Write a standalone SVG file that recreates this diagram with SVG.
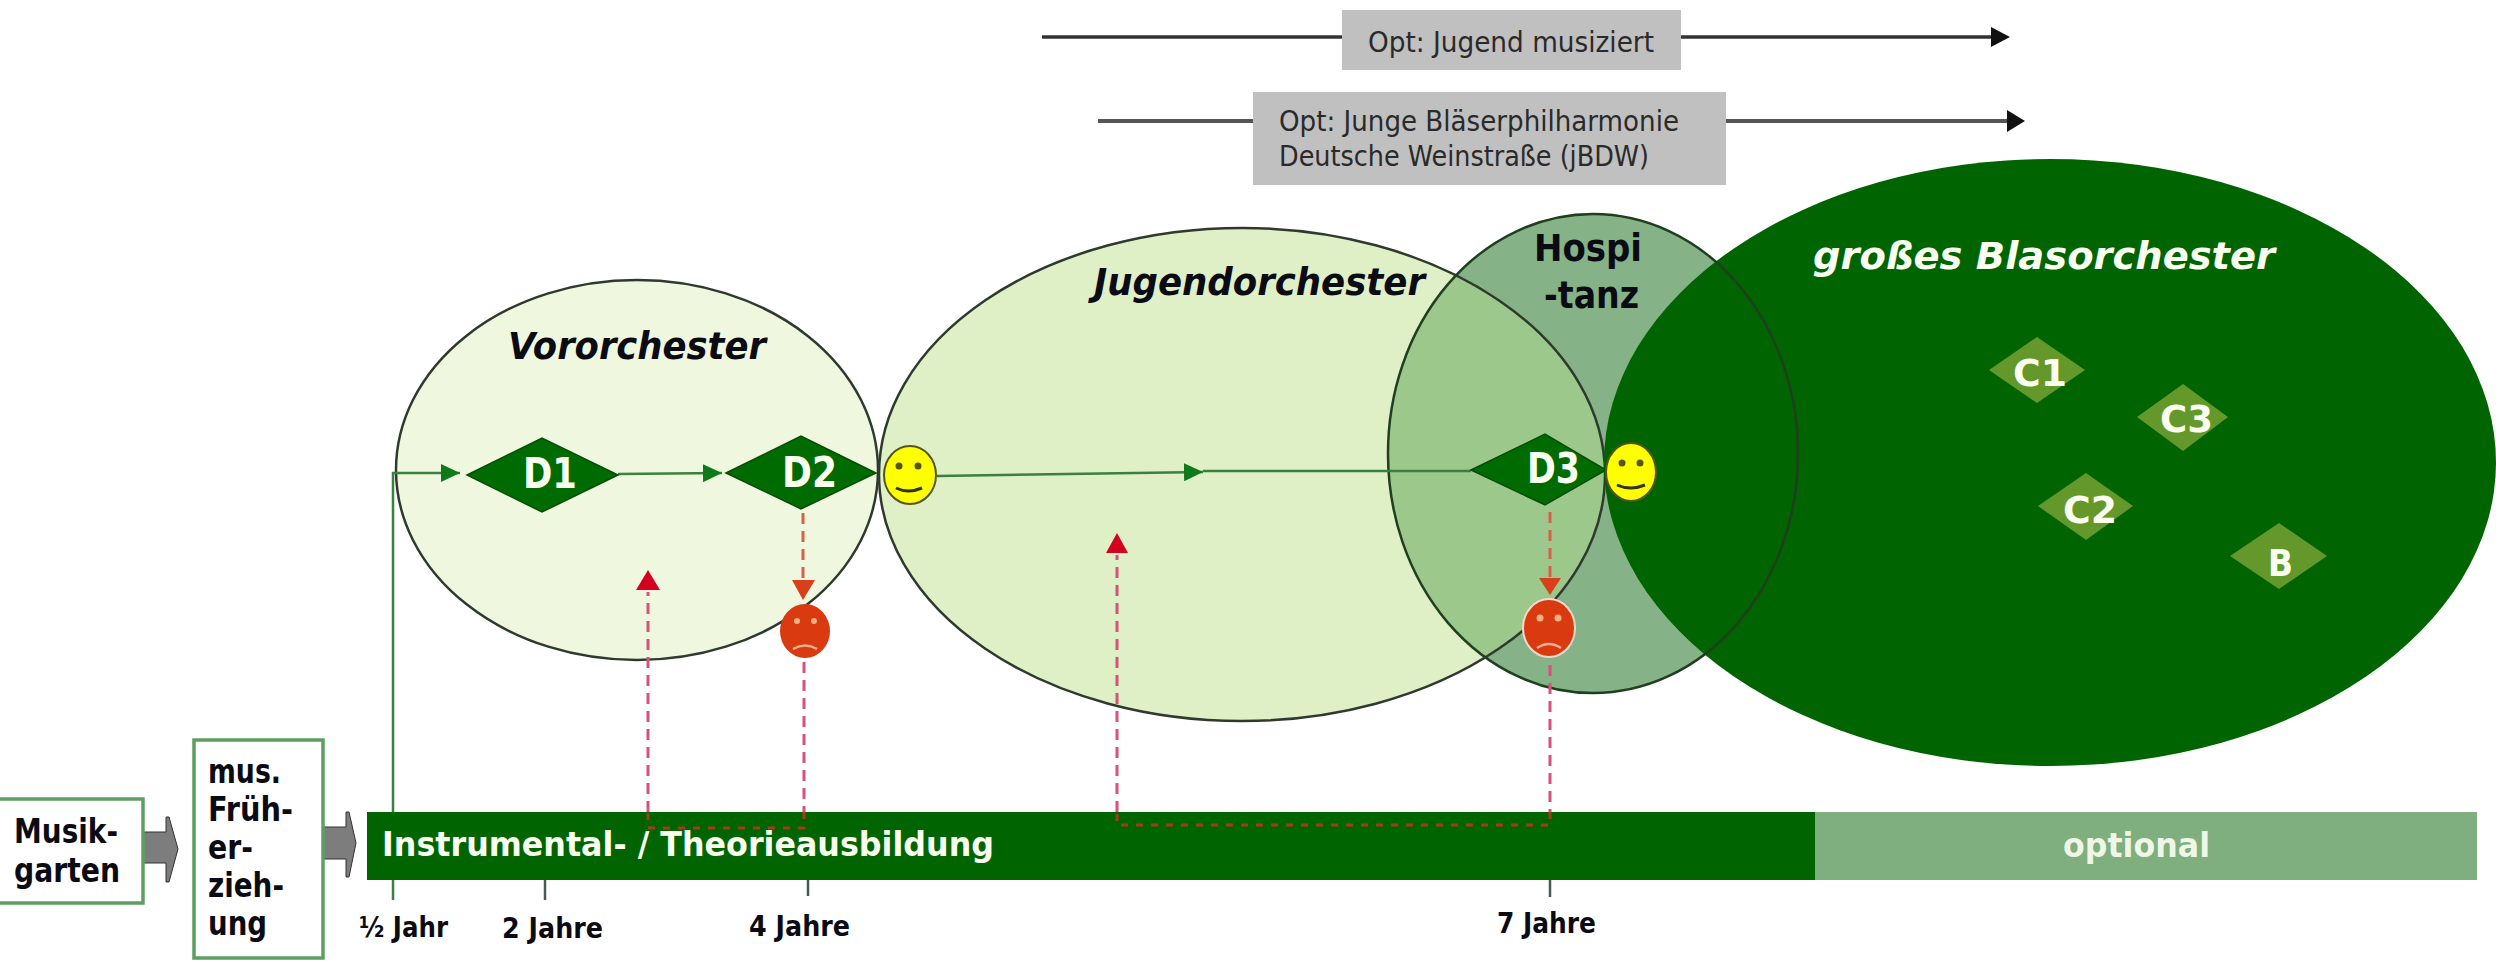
<svg xmlns="http://www.w3.org/2000/svg" width="2496" height="961" viewBox="0 0 2496 961">
<style>
text{font-family:"DejaVu Sans","Liberation Sans",sans-serif}
.b{font-weight:700}
.bi{font-weight:700;font-style:italic}
.k{fill:#0b0b14}
.w{fill:#fafff0}
.s32{font-size:33px}
.s36{font-size:37px}
.s40{font-size:42px}
.s38{font-size:38px}
.s28{font-size:28px}
.s24{font-size:28px;fill:#2a2a2a}
.edge{stroke:#2e3a2e;stroke-width:2.5}
.box{fill:#fff;stroke:#5e9e62;stroke-width:3.5}
.dd{fill:#006b00;stroke:#064d06;stroke-width:1.5}
.cd{fill:#64982a}
.flow{fill:none;stroke:#3a8040;stroke-width:2.5}
.dash{fill:none;stroke:#d9507a;stroke-width:3;stroke-dasharray:11 7}
.dashd{fill:none;stroke:#a83a1a;stroke-width:3;stroke-dasharray:7 8}
.dashu{fill:none;stroke:#d8604a;stroke-width:3;stroke-dasharray:11 7}
.tick{stroke:#4a5a50;stroke-width:2.5}
.smile{fill:#ffff00;stroke:#55551a;stroke-width:2}
.frown{fill:#d93a10}
.ln{fill:none;stroke:#33331a;stroke-width:3}
.flw{fill:none;stroke:#f5b090;stroke-width:2.5}
.eye{fill:#55551a}
.eyer{fill:#f0b080}
.ga{fill:#7d7d7d;stroke:#333;stroke-width:1}
</style>
<defs>
<clipPath id="jugendClip"><ellipse cx="1242" cy="474.5" rx="363" ry="246.5"/></clipPath>
<marker id="gh" markerUnits="userSpaceOnUse" markerWidth="19" markerHeight="18" refX="19" refY="9" orient="auto"><path d="M0 0L19 9L0 18Z" fill="#0f7a1a"/></marker>
</defs>

<g id="ellipses">
<g id="vororchester"><ellipse cx="637" cy="470" rx="241" ry="190" fill="#eff8df" class="edge"/><text x="508" y="359" class="bi k s36" textLength="258" lengthAdjust="spacingAndGlyphs">Vororchester</text></g>
<g id="jugendorchester"><ellipse cx="1242" cy="474.5" rx="363" ry="246.5" fill="#dfefc6"/></g>
<g id="hospitanz">
<ellipse cx="1593" cy="453.5" rx="205" ry="239.5" fill="#86b287"/>
<ellipse cx="1593" cy="453.5" rx="205" ry="239.5" fill="#9dc88c" clip-path="url(#jugendClip)"/>
</g>
<ellipse cx="1242" cy="474.5" rx="363" ry="246.5" fill="none" class="edge"/>
<text x="1094" y="295" class="bi k s36" textLength="331" lengthAdjust="spacingAndGlyphs">Jugendorchester</text>
<g id="grosses-blasorchester"><ellipse cx="2050" cy="462.5" rx="446" ry="303.5" fill="#006400"/><text x="1813" y="269" class="bi w s36" textLength="462" lengthAdjust="spacingAndGlyphs">großes Blasorchester</text></g>
<ellipse cx="1593" cy="453.5" rx="205" ry="239.5" fill="none" stroke="#1f3f1f" stroke-width="2.5"/>
<text x="1534" y="261" class="b k s36" textLength="108" lengthAdjust="spacingAndGlyphs">Hospi</text>
<text x="1544" y="308" class="b k s36" textLength="95" lengthAdjust="spacingAndGlyphs">-tanz</text>
</g>

<g id="top-options">
<g id="opt-jugend">
<path d="M1042 37H1342M1681 37H1995" stroke="#333" stroke-width="3.5" fill="none"/>
<path d="M1991 27L2010 37L1991 47Z" fill="#111"/>
<rect x="1342" y="10" width="339" height="60" fill="#c0c0c0"/>
<text x="1368" y="52" class="s24" textLength="286" lengthAdjust="spacingAndGlyphs">Opt: Jugend musiziert</text>
</g>
<g id="opt-jbdw">
<path d="M1098 121H1253M1726 121H2010" stroke="#555" stroke-width="4" fill="none"/>
<path d="M2007 110L2025 121L2007 132Z" fill="#111"/>
<rect x="1253" y="92" width="473" height="93" fill="#c0c0c0"/>
<text x="1279" y="131" class="s24" textLength="400" lengthAdjust="spacingAndGlyphs">Opt: Junge Bläserphilharmonie</text>
<text x="1279" y="166" class="s24" textLength="370" lengthAdjust="spacingAndGlyphs">Deutsche Weinstraße (jBDW)</text>
</g>
</g>

<g id="bars">
<g id="ausbildung"><rect x="367" y="812" width="1448" height="68" fill="#006400"/><text x="382" y="856" class="b w s32" textLength="612" lengthAdjust="spacingAndGlyphs">Instrumental- / Theorieausbildung</text></g>
<g id="optional"><rect x="1815" y="812" width="662" height="68" fill="#7fae7f"/><text x="2063" y="857" class="b s32" fill="#eef6e6" textLength="147" lengthAdjust="spacingAndGlyphs">optional</text></g>
</g>

<g id="connectors">
<path class="flow" d="M393 812V473H460" marker-end="url(#gh)"/>
<path class="flow" d="M393 880V900"/>
<path class="flow" d="M618 474L722 473" marker-end="url(#gh)"/>
<path class="flow" d="M937 476L1203 472" marker-end="url(#gh)"/>
<path class="flow" d="M1203 471H1471" stroke-width="2"/>
<path class="dashu" d="M803 513V582"/>
<path d="M792 580H815L803 600Z" fill="#d8401a"/>
<path class="dash" d="M804 662V812"/>
<path class="dashd" d="M804 812V828H648V812"/>
<path class="dash" d="M648 812V592"/>
<path d="M636 590H660L648 570Z" fill="#d40020"/>
<path class="dashu" d="M1550 512V580"/>
<path d="M1539 578H1561L1550 595Z" fill="#d8401a"/>
<path class="dash" d="M1550 665V812"/>
<path class="dashd" d="M1550 812V825H1117V812"/>
<path class="dash" d="M1117 812V555"/>
<path d="M1106 553H1128L1117 533Z" fill="#d40020"/>
<path class="tick" d="M545 880V900M808 880V896M1550 880V897"/>
<path class="ga" d="M143 832H166V817L169 817L178 849L169 882L166 882V863H143Z"/>
<path class="ga" d="M323 827H346V812L349 812L356 843L349 877L346 877V859H323Z"/>
</g>

<g id="diamonds">
<g id="D1"><path class="dd" d="M467 475L542 438L618 475L542 512Z"/><text x="523" y="488" class="b w s40" textLength="54" lengthAdjust="spacingAndGlyphs">D1</text></g>
<g id="D2"><path class="dd" d="M726 473L801 436L876 473L801 509Z"/><text x="782" y="487" class="b w s40" textLength="55" lengthAdjust="spacingAndGlyphs">D2</text></g>
<g id="D3"><path class="dd" d="M1471 470L1545 434L1606 470L1545 505Z"/><text x="1527" y="483" class="b w s40" textLength="53" lengthAdjust="spacingAndGlyphs">D3</text></g>
<g id="C1"><path class="cd" d="M1989 370L2037 337L2085 370L2037 403Z"/><text x="2013" y="386" class="b w s38" textLength="54" lengthAdjust="spacingAndGlyphs">C1</text></g>
<g id="C3"><path class="cd" d="M2137 417L2183 384L2228 417L2183 451Z"/><text x="2160" y="432" class="b w s38" textLength="53" lengthAdjust="spacingAndGlyphs">C3</text></g>
<g id="C2"><path class="cd" d="M2038 506L2086 473L2133 506L2086 540Z"/><text x="2063" y="523" class="b w s38" textLength="54" lengthAdjust="spacingAndGlyphs">C2</text></g>
<g id="B"><path class="cd" d="M2230 556L2279 523L2327 556L2279 589Z"/><text x="2268" y="576" class="b w s38" textLength="25" lengthAdjust="spacingAndGlyphs">B</text></g>
</g>

<g id="faces">
<g id="smiley1"><ellipse class="smile" cx="910" cy="475" rx="26" ry="29"/><circle class="eye" cx="899" cy="466" r="3.5"/><circle class="eye" cx="918" cy="466" r="3.5"/><path class="ln" d="M896 488Q908 494 922 488"/></g>
<g id="smiley2"><ellipse class="smile" cx="1631" cy="472" rx="25" ry="29" stroke-width="1"/><circle class="eye" cx="1622" cy="463" r="3.5"/><circle class="eye" cx="1640" cy="463" r="3.5"/><path class="ln" d="M1617 485Q1630 491 1645 485"/></g>
<g id="frown1"><ellipse class="frown" cx="805" cy="631" rx="25" ry="27"/><circle class="eyer" cx="797" cy="621" r="3"/><circle class="eyer" cx="814" cy="621" r="3"/><path class="flw" d="M793 649Q805 642 817 649"/></g>
<g id="frown2"><ellipse class="frown" cx="1549" cy="628" rx="26" ry="29" stroke="#f6d8c8" stroke-width="2"/><circle class="eyer" cx="1540" cy="618" r="3.5"/><circle class="eyer" cx="1558" cy="618" r="3.5"/><path class="flw" d="M1537 648Q1549 640 1561 648"/></g>
</g>

<g id="musikgarten"><rect class="box" x="-4" y="799" width="147" height="104"/><text x="14" y="843" class="b k s32" textLength="104" lengthAdjust="spacingAndGlyphs">Musik-</text><text x="14" y="882" class="b k s32" textLength="106" lengthAdjust="spacingAndGlyphs">garten</text></g>
<g id="frueherziehung"><rect class="box" x="194" y="740" width="129" height="218"/>
<text x="208" y="783" class="b k s32" textLength="73" lengthAdjust="spacingAndGlyphs">mus.</text>
<text x="208" y="821" class="b k s32" textLength="85" lengthAdjust="spacingAndGlyphs">Früh-</text>
<text x="208" y="859" class="b k s32" textLength="45" lengthAdjust="spacingAndGlyphs">er-</text>
<text x="208" y="897" class="b k s32" textLength="76" lengthAdjust="spacingAndGlyphs">zieh-</text>
<text x="208" y="935" class="b k s32" textLength="59" lengthAdjust="spacingAndGlyphs">ung</text></g>

<g id="timeline">
<text x="359" y="937" class="b k s28" textLength="89" lengthAdjust="spacingAndGlyphs">½ Jahr</text>
<text x="502" y="938" class="b k s28" textLength="101" lengthAdjust="spacingAndGlyphs">2 Jahre</text>
<text x="749" y="936" class="b k s28" textLength="101" lengthAdjust="spacingAndGlyphs">4 Jahre</text>
<text x="1497" y="933" class="b k s28" textLength="99" lengthAdjust="spacingAndGlyphs">7 Jahre</text>
</g>
</svg>
